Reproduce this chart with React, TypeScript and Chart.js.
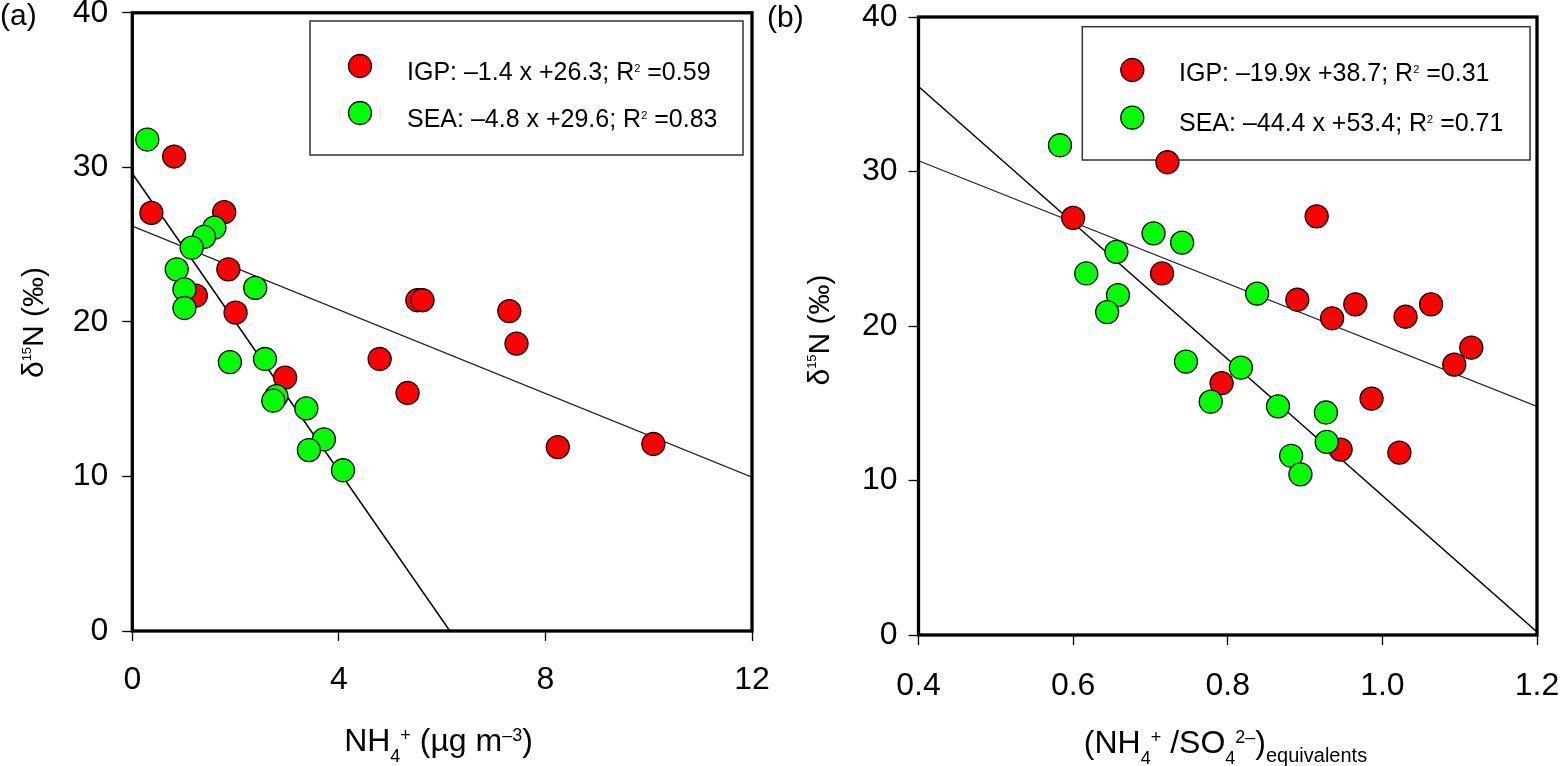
import React, { useEffect, useRef } from "react";
import { Chart, registerables } from "chart.js";

Chart.register(...registerables);

const FONT = "'Liberation Sans', Arial, Helvetica, sans-serif";
const RED = "#ff0000";
const GREEN = "#00ff00";

// ---------------- Data ----------------
const yTicks = [0, 10, 20, 30, 40];
const yTickLabels = ["0", "10", "20", "30", "40"];
const nh4Ticks = [0, 4, 8, 12];
const nh4TickLabels = ["0", "4", "8", "12"];
const ratioTicks = [0.4, 0.6, 0.8, 1.0, 1.2];
const ratioTickLabels = ["0.4", "0.6", "0.8", "1.0", "1.2"];

// Panel (a): d15N vs NH4+ (µg m-3)
const igpNh4X = [0.37, 0.81, 1.78, 1.23, 1.86, 2.0, 2.96, 4.79, 5.33, 5.52, 5.62, 7.3, 7.44, 8.24, 10.09];
const igpNh4Y = [27.05, 30.7, 27.1, 21.7, 23.4, 20.6, 16.4, 17.6, 15.4, 21.4, 21.4, 20.7, 18.6, 11.9, 12.1];
const seaNh4X = [0.29, 1.59, 1.39, 1.15, 0.86, 1.01, 1.01, 2.38, 1.89, 2.57, 2.79, 2.73, 3.37, 3.71, 3.42, 4.08];
const seaNh4Y = [31.8, 26.1, 25.5, 24.8, 23.4, 22.1, 20.9, 22.2, 17.4, 17.6, 15.2, 14.9, 14.4, 12.4, 11.7, 10.4];
const igpFitNh4X = [0, 12];
const igpFitNh4Y = [26.2, 9.95];
const seaFitNh4X = [0, 6.15];
const seaFitNh4Y = [29.6, 0];

// Panel (b): d15N vs (NH4+/SO4 2-) equivalents
const igpRatioX = [0.6, 0.722, 0.915, 0.715, 0.89, 0.935, 0.965, 1.03, 1.063, 1.093, 1.115, 0.792, 0.986, 0.946, 1.022];
const igpRatioY = [27.0, 30.6, 27.1, 23.4, 21.7, 20.5, 21.4, 20.6, 21.4, 17.5, 18.6, 16.3, 15.3, 12.0, 11.8];
const seaRatioX = [0.583, 0.704, 0.741, 0.656, 0.617, 0.658, 0.644, 0.838, 0.746, 0.817, 0.778, 0.865, 0.927, 0.928, 0.882, 0.894];
const seaRatioY = [31.7, 26.0, 25.4, 24.8, 23.4, 22.0, 20.9, 22.1, 17.7, 17.3, 15.1, 14.8, 14.4, 12.5, 11.6, 10.4];
const igpFitRatioX = [0.4, 1.2];
const igpFitRatioY = [30.7, 14.8];
const seaFitRatioX = [0.4, 1.2];
const seaFitRatioY = [35.5, 0.2];

const igpLegendA = ["IGP: \u20131.4 x +26.3; R", "2", " =0.59"];
const seaLegendA = ["SEA: \u20134.8 x +29.6; R", "2", " =0.83"];
const igpLegendB = ["IGP: \u201319.9x +38.7; R", "2", " =0.31"];
const seaLegendB = ["SEA: \u201344.4 x +53.4; R", "2", " =0.71"];

// ---------------- Helpers ----------------
type Seg = { t: string; size: number; dy?: number };

function drawSegs(
  ctx: CanvasRenderingContext2D,
  segs: Seg[],
  x: number,
  y: number,
  align: "left" | "center"
) {
  ctx.save();
  ctx.textAlign = "left";
  ctx.textBaseline = "alphabetic";
  ctx.fillStyle = "#000";
  const widths = segs.map((s) => {
    ctx.font = `${s.size}px ${FONT}`;
    return ctx.measureText(s.t).width;
  });
  const total = widths.reduce((a, b) => a + b, 0);
  let cx = align === "center" ? x - total / 2 : x;
  segs.forEach((s, i) => {
    ctx.font = `${s.size}px ${FONT}`;
    ctx.fillText(s.t, cx, y + (s.dy || 0));
    cx += widths[i];
  });
  ctx.restore();
}

const legendSegs = (parts: string[]): Seg[] => [
  { t: parts[0], size: 25 },
  { t: parts[1], size: 11, dy: -8 },
  { t: parts[2], size: 25 },
];

const pts = (xs: number[], ys: number[]) => xs.map((x, i) => ({ x, y: ys[i] }));

interface PanelCfg {
  left: number;
  width: number;
  height: number;
  area: { left: number; top: number; right: number; bottom: number };
  xMin: number;
  xMax: number;
  xTicks: number[];
  xTickLabels: string[];
  xTickPad: number;
  yTickPad: number;
  igpX: number[];
  igpY: number[];
  seaX: number[];
  seaY: number[];
  igpFitX: number[];
  igpFitY: number[];
  seaFitX: number[];
  seaFitY: number[];
  tag: string;
  tagX: number;
  tagY: number;
  xTitle: Seg[];
  xTitleX: number;
  xTitleY: number;
  yTitle: Seg[];
  yTitleX: number;
  yTitleY: number;
  legend: {
    box: number[];
    markerX: number;
    rowY: number[];
    textX: number;
    baseY: number[];
    rows: Seg[][];
  };
}

const yTitleSegs: Seg[] = [
  { t: "\u03b4", size: 30 },
  { t: "15", size: 13, dy: -12.6 },
  { t: "N", size: 30 },
  { t: " (\u2030)", size: 30 },
];

const panelA: PanelCfg = {
  left: 0,
  width: 780,
  height: 766,
  area: { left: 132.3, top: 12.7, right: 752, bottom: 631 },
  xMin: 0,
  xMax: 12,
  xTicks: nh4Ticks,
  xTickLabels: nh4TickLabels,
  xTickPad: 20,
  yTickPad: 14,
  igpX: igpNh4X,
  igpY: igpNh4Y,
  seaX: seaNh4X,
  seaY: seaNh4Y,
  igpFitX: igpFitNh4X,
  igpFitY: igpFitNh4Y,
  seaFitX: seaFitNh4X,
  seaFitY: seaFitNh4Y,
  tag: "(a)",
  tagX: 0,
  tagY: 25,
  xTitle: [
    { t: "NH", size: 32 },
    { t: "4", size: 18, dy: 11 },
    { t: "+", size: 18, dy: -10 },
    { t: " (\u00b5g m", size: 32 },
    { t: "\u20133", size: 18, dy: -10 },
    { t: ")", size: 32 },
  ],
  xTitleX: 438.5,
  xTitleY: 751,
  yTitle: yTitleSegs,
  yTitleX: 43.3,
  yTitleY: 322.5,
  legend: {
    box: [310, 21, 743, 155],
    markerX: 360,
    rowY: [66, 113],
    textX: 407,
    baseY: [80, 127],
    rows: [legendSegs(igpLegendA), legendSegs(seaLegendA)],
  },
};

const panelB: PanelCfg = {
  left: 760,
  width: 801,
  height: 766,
  area: { left: 158.5, top: 17, right: 777, bottom: 635 },
  xMin: 0.4,
  xMax: 1.2,
  xTicks: ratioTicks,
  xTickLabels: ratioTickLabels,
  xTickPad: 22,
  yTickPad: 11,
  igpX: igpRatioX,
  igpY: igpRatioY,
  seaX: seaRatioX,
  seaY: seaRatioY,
  igpFitX: igpFitRatioX,
  igpFitY: igpFitRatioY,
  seaFitX: seaFitRatioX,
  seaFitY: seaFitRatioY,
  tag: "(b)",
  tagX: 7,
  tagY: 26.5,
  xTitle: [
    { t: "(NH", size: 32 },
    { t: "4", size: 18, dy: 11 },
    { t: "+", size: 18, dy: -10 },
    { t: " /SO", size: 32 },
    { t: "4", size: 18, dy: 11 },
    { t: "2\u2013", size: 18, dy: -10 },
    { t: ")", size: 32 },
    { t: "equivalents", size: 20, dy: 9 },
  ],
  xTitleX: 465.5,
  xTitleY: 753,
  yTitle: yTitleSegs,
  yTitleX: 69,
  yTitleY: 330,
  legend: {
    box: [322.3, 26.7, 770, 160],
    markerX: 372.3,
    rowY: [70, 117.7],
    textX: 419,
    baseY: [81, 131],
    rows: [legendSegs(igpLegendB), legendSegs(seaLegendB)],
  },
};

function Panel({ cfg }: { cfg: PanelCfg }) {
  const ref = useRef<HTMLCanvasElement | null>(null);

  useEffect(() => {
    const canvas = ref.current;
    if (!canvas) return;
    const a = cfg.area;

    const framePlugin = {
      id: "frame",
      afterDatasetsDraw(chart: any) {
        const { ctx, chartArea: c } = chart;
        ctx.save();
        ctx.strokeStyle = "#000";
        ctx.lineWidth = 3.3;
        ctx.strokeRect(c.left, c.top, c.right - c.left, c.bottom - c.top);
        ctx.restore();
      },
    };

    const legendPlugin = {
      id: "customLegend",
      beforeDatasetsDraw(chart: any) {
        const ctx: CanvasRenderingContext2D = chart.ctx;
        const L = cfg.legend;
        ctx.save();
        ctx.strokeStyle = "#333";
        ctx.lineWidth = 1.5;
        ctx.strokeRect(L.box[0], L.box[1], L.box[2] - L.box[0], L.box[3] - L.box[1]);
        const dsIgp = chart.data.datasets.find((d: any) => d.label === "IGP");
        const dsSea = chart.data.datasets.find((d: any) => d.label === "SEA");
        [dsIgp, dsSea].forEach((ds: any, i: number) => {
          ctx.beginPath();
          ctx.arc(L.markerX, L.rowY[i], ds.pointRadius, 0, Math.PI * 2);
          ctx.fillStyle = ds.backgroundColor;
          ctx.fill();
          ctx.lineWidth = ds.borderWidth;
          ctx.strokeStyle = ds.borderColor;
          ctx.stroke();
          drawSegs(ctx, L.rows[i], L.textX, L.baseY[i], "left");
        });
        ctx.restore();
      },
    };

    const textPlugin = {
      id: "texts",
      afterDraw(chart: any) {
        const ctx: CanvasRenderingContext2D = chart.ctx;
        drawSegs(ctx, [{ t: cfg.tag, size: 30 }], cfg.tagX, cfg.tagY, "left");
        drawSegs(ctx, cfg.xTitle, cfg.xTitleX, cfg.xTitleY, "center");
        ctx.save();
        ctx.translate(cfg.yTitleX, cfg.yTitleY);
        ctx.rotate(-Math.PI / 2);
        drawSegs(ctx, cfg.yTitle, 0, 0, "center");
        ctx.restore();
      },
    };

    const chart = new Chart(canvas, {
      type: "scatter",
      data: {
        datasets: [
          {
            label: "SEA",
            data: pts(cfg.seaX, cfg.seaY),
            backgroundColor: GREEN,
            borderColor: "#000",
            borderWidth: 1.3,
            pointRadius: 11.5,
            pointHoverRadius: 11.5,
            order: 1,
          },
          {
            label: "IGP",
            data: pts(cfg.igpX, cfg.igpY),
            backgroundColor: RED,
            borderColor: "#000",
            borderWidth: 1.3,
            pointRadius: 11.5,
            pointHoverRadius: 11.5,
            order: 2,
          },
          {
            label: "IGP fit",
            data: pts(cfg.igpFitX, cfg.igpFitY),
            showLine: true,
            fill: false,
            pointRadius: 0,
            borderColor: "#222",
            borderWidth: 1.2,
            order: 3,
          },
          {
            label: "SEA fit",
            data: pts(cfg.seaFitX, cfg.seaFitY),
            showLine: true,
            fill: false,
            pointRadius: 0,
            borderColor: "#000",
            borderWidth: 1.5,
            order: 3,
          },
        ],
      },
      options: {
        animation: false,
        responsive: false,
        maintainAspectRatio: false,
        events: [],
        layout: {
          padding: { left: 0, top: a.top, right: cfg.width - a.right, bottom: 0 },
        },
        plugins: {
          legend: { display: false },
          tooltip: { enabled: false },
        },
        scales: {
          x: {
            type: "linear",
            position: "bottom",
            min: cfg.xMin,
            max: cfg.xMax,
            afterBuildTicks: (s: any) => {
              s.ticks = cfg.xTicks.map((v) => ({ value: v }));
            },
            ticks: {
              font: { family: FONT, size: 32 },
              color: "#000",
              padding: cfg.xTickPad,
              maxRotation: 0,
              minRotation: 0,
              autoSkip: false,
              callback: (_v: any, i: number) => cfg.xTickLabels[i],
            },
            grid: {
              drawOnChartArea: false,
              drawTicks: true,
              tickLength: 10,
              tickWidth: 1.3,
              tickColor: "#000",
            },
            border: { display: false },
            afterFit: (s: any) => {
              s.height = cfg.height - a.bottom;
              s.paddingLeft = 0;
              s.paddingRight = 0;
            },
          },
          y: {
            type: "linear",
            position: "left",
            min: 0,
            max: 40,
            afterBuildTicks: (s: any) => {
              s.ticks = yTicks.map((v) => ({ value: v }));
            },
            ticks: {
              font: { family: FONT, size: 32 },
              color: "#000",
              padding: cfg.yTickPad,
              autoSkip: false,
              callback: (_v: any, i: number) => yTickLabels[i],
            },
            grid: {
              drawOnChartArea: false,
              drawTicks: true,
              tickLength: 10,
              tickWidth: 1.3,
              tickColor: "#000",
            },
            border: { display: false },
            afterFit: (s: any) => {
              s.width = a.left;
              s.paddingTop = 0;
              s.paddingBottom = 0;
            },
          },
        },
      } as any,
      plugins: [legendPlugin, framePlugin, textPlugin],
    });

    return () => {
      chart.destroy();
    };
  }, [cfg]);

  return (
    <canvas
      ref={ref}
      width={cfg.width}
      height={cfg.height}
      style={{ position: "absolute", left: cfg.left, top: 0, width: cfg.width, height: cfg.height }}
    />
  );
}

export default function App() {
  return (
    <div
      style={{
        position: "absolute",
        left: 0,
        top: 0,
        width: 1561,
        height: 766,
        background: "#fff",
        overflow: "hidden",
      }}
    >
      <Panel cfg={panelA} />
      <Panel cfg={panelB} />
    </div>
  );
}
